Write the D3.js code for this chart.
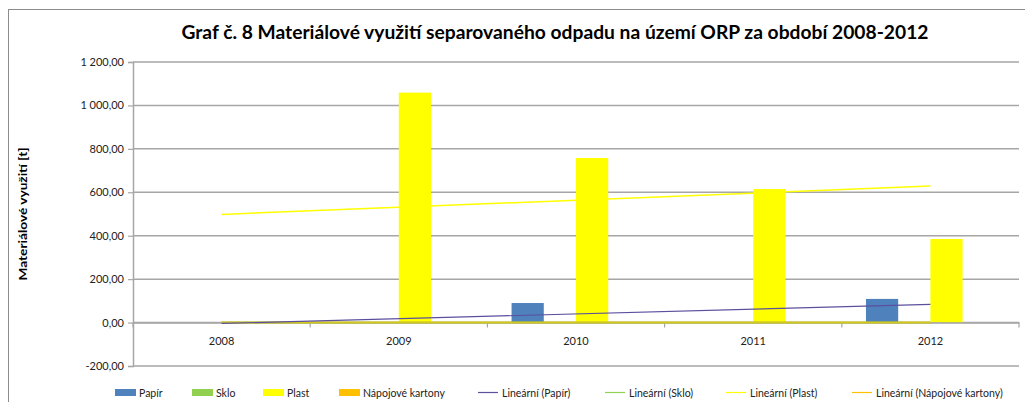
<!DOCTYPE html>
<html><head><meta charset="utf-8">
<script src="https://cdn.jsdelivr.net/npm/d3@7"></script>
<style>body{margin:0;background:#fff}svg{display:block}</style>
</head><body><svg id="c" width="1025" height="402"></svg>
<script>
const years = ["2008","2009","2010","2011","2012"];
const seriesNames = ["Papír","Sklo","Plast","Nápojové kartony"];
const papir = [0, 0, 90, 0, 109];
const sklo = [0, 0, 0, 0, 0];
const plast = [0, 1059, 758, 615, 385];
const napoj = [0, 0, 0, 0, 0];
const yTicks = [-200, 0, 200, 400, 600, 800, 1000, 1200];
const colors = ["#4f81bd","#92d050","#ffff00","#ffc000"];
const trendColors = ["#5b4f9e","#92d050","#ffff00","#ffc000"];
const values = [papir, sklo, plast, napoj];

const svg = d3.select("#c");
const font = "Lato, 'Open Sans', sans-serif";
// chart border
svg.append("rect").attr("x",8.5).attr("y",9.5).attr("width",1030).attr("height",400)
  .attr("fill","#fff").attr("stroke","#8c8c8c").attr("stroke-width",1);

const L=133, R=1019, T=62, B=366;
const x0 = d3.scaleBand().domain(years).range([L,R]).padding(0);
const bw = x0.bandwidth();
const x1 = d3.scaleBand().domain(seriesNames).range([bw*0.75/5.5, bw - bw*0.75/5.5]).padding(0);
const y = d3.scaleLinear().domain([-200,1200]).range([B,T]);

// gridlines
svg.append("g").selectAll("line").data(yTicks).join("line")
  .attr("x1",L).attr("x2",R).attr("y1",d=>y(d)).attr("y2",d=>y(d))
  .attr("stroke","#a6a6a6").attr("stroke-width",1.5);

// y axis
const fmt = v => {
  const s = d3.format(",.2f")(v);
  return s.replace(/,/g," ").replace(".",",").replace("−","-");
};
const ya = d3.axisLeft(y).tickValues(yTicks).tickSize(5).tickPadding(4).tickFormat(fmt);
const gy = svg.append("g").attr("transform",`translate(${L},0)`).call(ya);
gy.select(".domain").attr("stroke","#a6a6a6").attr("stroke-width",1.5);
gy.selectAll(".tick line").attr("stroke","#a6a6a6").attr("stroke-width",1.2);
gy.selectAll("text").attr("font-family",font).attr("font-size","11px").attr("fill","#222");

// bars
const g = svg.append("g");
years.forEach((yr,i)=>{
  seriesNames.forEach((s,j)=>{
    const v = values[j][i];
    if (!v) return;
    g.append("rect").attr("x",x0(yr)+x1(s)).attr("width",x1.bandwidth())
      .attr("y",y(Math.max(0,v))).attr("height",Math.abs(y(v)-y(0)))
      .attr("fill",colors[j]);
  });
});

// x axis at 0
const xa = d3.axisBottom(x0).tickSize(0).tickPadding(15);
const gx = svg.append("g").attr("transform",`translate(0,${y(0)})`).call(xa);
gx.select(".domain").attr("stroke","#a6a6a6").attr("stroke-width",1.5);
gx.selectAll("text").attr("font-family",font).attr("font-size","11px").attr("fill","#222");
svg.append("g").selectAll("line").data(d3.range(years.length+1)).join("line")
  .attr("x1",d=>L+d*bw).attr("x2",d=>L+d*bw).attr("y1",y(0)).attr("y2",y(0)+5)
  .attr("stroke","#a6a6a6").attr("stroke-width",1.2);

// trend lines (linear regression)
function reg(arr){
  const n=arr.length, xs=d3.range(n), mx=d3.mean(xs), my=d3.mean(arr);
  const b=d3.sum(xs,(xx,k)=>(xx-mx)*(arr[k]-my))/d3.sum(xs,xx=>(xx-mx)**2);
  return [my-b*mx, my+b*(n-1-mx)];
}
const cx = yr => x0(yr)+bw/2;
const trendOrder = [1,3,2,0];
trendOrder.forEach(j=>{
  const [a,b] = reg(values[j]);
  svg.append("line").attr("x1",cx(years[0])).attr("x2",cx(years[years.length-1]))
    .attr("y1",y(a)).attr("y2",y(b))
    .attr("stroke",trendColors[j]).attr("stroke-width",j===0?1.2:(j===2?1.5:2))
    .attr("stroke-opacity",j===3?0.6:1);
});

// title
svg.append("text").attr("x",555).attr("y",39).attr("text-anchor","middle")
  .attr("font-family",font).attr("font-weight","bold").attr("font-size","18px")
  .attr("textLength",747).attr("lengthAdjust","spacingAndGlyphs")
  .text("Graf č. 8 Materiálové využití separovaného odpadu na území ORP za období 2008-2012");

// y label
svg.append("text").attr("transform","translate(27,214) rotate(-90)").attr("text-anchor","middle")
  .attr("font-family",font).attr("font-weight","bold").attr("font-size","12px")
  .attr("textLength",133).attr("lengthAdjust","spacingAndGlyphs")
  .text("Materiálové využití [t]");

// legend
const leg = svg.append("g").attr("font-family",font).attr("font-size","10.5px").attr("fill","#222");
const rectItems = [[115,0],[192,1],[263,2],[339,3]];
rectItems.forEach(([xx,j])=>{
  leg.append("rect").attr("x",xx).attr("y",389).attr("width",21).attr("height",7).attr("fill",colors[j]);
  leg.append("text").attr("x",xx+24).attr("y",396.5).text(seriesNames[j]);
});
const lineItems = [[478,0],[605,1],[726,2],[852,3]];
lineItems.forEach(([xx,j])=>{
  leg.append("line").attr("x1",xx).attr("x2",xx+20).attr("y1",392.5).attr("y2",392.5)
    .attr("stroke",trendColors[j]).attr("stroke-width",1.2);
  leg.append("text").attr("x",xx+24).attr("y",396.5).text(`Lineární (${seriesNames[j]})`);
});
</script></body></html>
